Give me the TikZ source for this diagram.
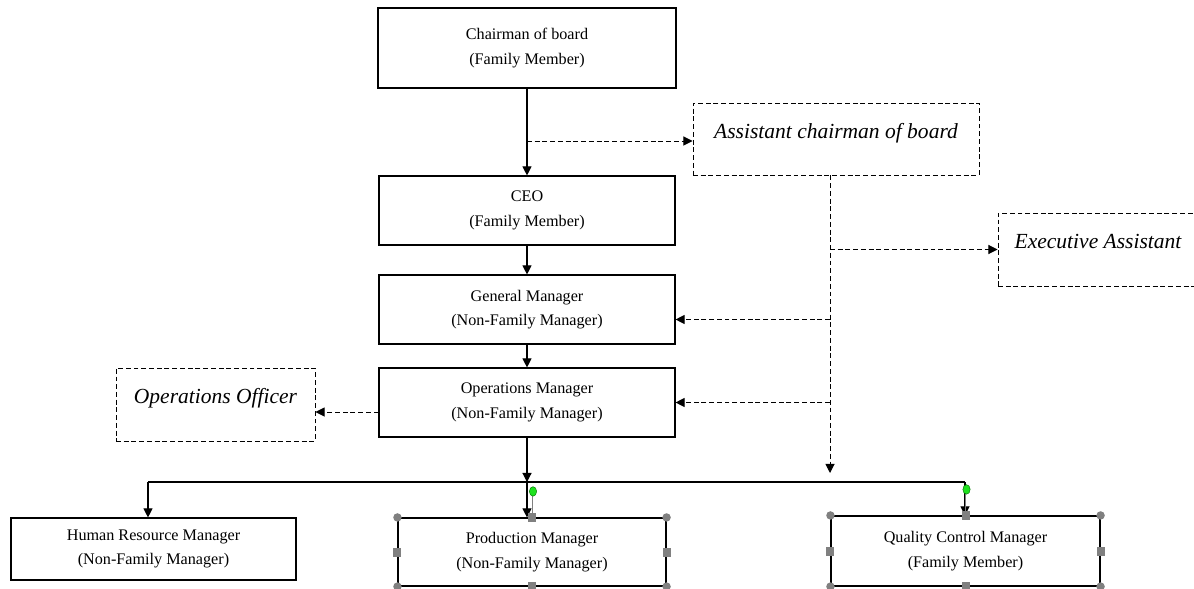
\documentclass[tikz,border=0pt]{standalone}
\usepackage{fontspec}
\setmainfont{Liberation Serif}
\usepackage{xcolor}
\usetikzlibrary{arrows.meta,calc,positioning}
\newcommand{\diagunit}{0.025cm}
\newcommand{\boxfont}{\fontsize{11.5}{17.5}\selectfont}
\newcommand{\tagfont}{\fontsize{15.3}{18}\selectfont\itshape}
\definecolor{grip}{RGB}{30,225,30}
\definecolor{handlegray}{RGB}{128,128,128}

\begin{document}
\begin{tikzpicture}[x=\diagunit, y=-\diagunit,
	post/.style={draw, line width=0.8pt, align=center, font=\boxfont, inner sep=0pt},
	aide/.style={draw, line width=0.7pt, dash pattern=on 3.5pt off 2pt, font=\tagfont,
		text height=11pt, text depth=12.4pt, inner sep=0pt},
	link/.style={line width=0.8pt, -{Triangle[length=6.5pt,width=6.5pt]}},
	dlink/.style={link, line width=0.7pt, dash pattern=on 3.5pt off 2pt},
	handle/.style={fill=handlegray}]
	% The frame:
	\useasboundingbox (0,0) rectangle (1194,589);
	\fill[white] (0,0) rectangle (1194,589);
	\clip (0,0) rectangle (1194,589);
	% Family line:
	\node[post, minimum width=298*\diagunit, minimum height=80*\diagunit] (chair) at (527,48) {Chairman of board\\(Family Member)};
	\node[post, minimum width=296*\diagunit, minimum height=69*\diagunit] (ceo) at (527,210.5) {CEO\\(Family Member)};
	\node[post, minimum width=296*\diagunit, minimum height=69*\diagunit] (gm) at (527,309.5) {General Manager\\(Non-Family Manager)};
	\node[post, minimum width=296*\diagunit, minimum height=69*\diagunit] (ops) at (527,402.5) {Operations Manager\\(Non-Family Manager)};
	% Assistants:
	\node[aide, minimum width=286*\diagunit, minimum height=72*\diagunit] (asst) at (836,139) {Assistant chairman of board};
	\node[aide, minimum width=200*\diagunit, minimum height=73*\diagunit] (exec) at (1098,249.5) {Executive Assistant};
	\node[aide, minimum width=199*\diagunit, minimum height=73*\diagunit] (officer) at (215.5,404.5) {Operations Officer};
	% Managers:
	\node[post, minimum width=285*\diagunit, minimum height=62*\diagunit] (hr) at (153.5,549) {Human Resource Manager\\(Non-Family Manager)};
	\node[post, minimum width=268*\diagunit, minimum height=68*\diagunit] (prod) at (532,552) {Production Manager\\(Non-Family Manager)};
	\node[post, minimum width=269*\diagunit, minimum height=70*\diagunit] (qc) at (965.5,551) {Quality Control Manager\\(Family Member)};
	% Junctions:
	\coordinate (cut) at (527,141);
	\coordinate (spine) at (830,473);
	\coordinate (bus) at (527,482);
	\coordinate (busl) at (148,482);
	\coordinate (busr) at (965,482);
	\coordinate (gmin) at ($(gm.east)+(0,10)$);
	\coordinate (opsout) at ($(ops.west)+(0,9.5)$);
	% Reporting lines:
	\draw[link] (chair.south) -- (ceo.north);
	\draw[dlink] (cut) -- (cut -| asst.west);
	\draw[link] (ceo.south) -- (gm.north);
	\draw[link] (gm.south) -- (ops.north);
	\draw[dlink] (opsout) -- (opsout -| officer.east);
	\draw[dlink] (asst.south -| spine) -- (spine);
	\draw[dlink] (spine |- exec.west) -- (exec.west);
	\draw[dlink] (spine |- gmin) -- (gmin);
	\draw[dlink] (spine |- ops.east) -- (ops.east);
	\draw[link] (ops.south) -- (bus);
	\draw[line width=0.8pt] (busl) -- (busr);
	\draw[link] (busl) -- (busl |- hr.north);
	\draw[link] (bus) -- (bus |- prod.north);
	\draw[link] (busr) -- (busr |- qc.north);
	% Selection handles:
	\foreach \b in {prod,qc}{
		\draw[handlegray, line width=0.5pt] (\b.north) -- ++(0,-26);
		\fill[grip, draw=green!45!black, line width=0.3pt] ($(\b.north)+(1,-26)$) ellipse (2.6pt and 3.4pt);
		\foreach \a in {north west,north east,south west,south east}
			\fill[handle] (\b.\a) circle (3pt);
		\foreach \a in {north,south,west,east}
			\fill[handle] ($(\b.\a)+(-4,-4.5)$) rectangle ++(8,9);
	}
\end{tikzpicture}
\end{document}
